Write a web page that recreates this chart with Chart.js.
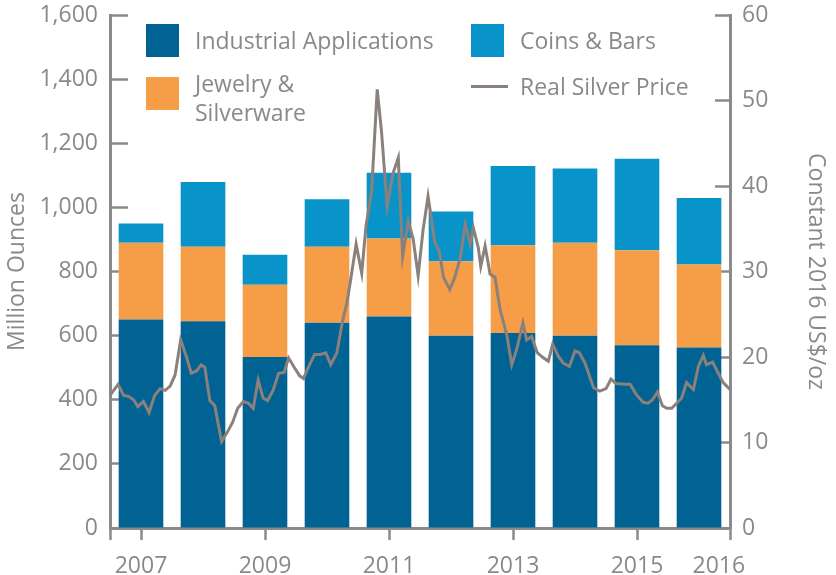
<!DOCTYPE html>
<html>
<head>
<meta charset="utf-8">
<title>Silver demand vs real silver price</title>
<script src="https://cdn.jsdelivr.net/npm/chart.js@4.4.1/dist/chart.umd.min.js"></script>
<style>
    body { margin: 0; background: #ffffff; }
    .chart-wrap { position: relative; width: 836px; height: 575px; }
    #legend { font-family: 'Open Sans', sans-serif; font-size: 23px; color: #878a8d; }
    .legend-item { position: absolute; display: flex; align-items: center; line-height: 29px; white-space: nowrap; }
    .legend-item.wrap-text { align-items: flex-start; white-space: normal; }
    .legend-item.wrap-text .legend-text { width: 130px; }
    .swatch { width: 33px; height: 33px; margin-right: 16px; flex: none; }
    .wrap-text .swatch { margin-top: 8px; }
    .swatch-line { width: 37px; height: 3px; margin-right: 12px; flex: none; }
</style>
</head>
<body>
<div class="chart-wrap">
    <canvas id="silverChart"></canvas>
    <div id="legend"></div>
</div>
<script>
// Silver demand by sector (million ounces) and real silver price (constant 2016 US$/oz)
const years = ['2007', '2008', '2009', '2010', '2011', '2012', '2013', '2014', '2015', '2016'];
const industrial = [650, 645, 533, 640, 660, 600, 608, 600, 570, 563];
const jewelry = [240, 232, 226, 237, 243, 232, 274, 290, 296, 259];
const coinsBars = [60, 202, 93, 148, 205, 155, 247, 231, 286, 207];

// price line (time as decimal year, value in US$/oz)
const priceTime = [
    2006.50, 2006.63, 2006.72, 2006.80, 2006.88, 2006.95, 2007.04, 2007.13, 2007.22, 2007.31,
    2007.39, 2007.47, 2007.55, 2007.64, 2007.73, 2007.81, 2007.90, 2007.97, 2008.03, 2008.11,
    2008.19, 2008.30, 2008.40, 2008.48, 2008.56, 2008.65, 2008.73, 2008.81, 2008.89, 2008.97,
    2009.04, 2009.13, 2009.22, 2009.31, 2009.38, 2009.47, 2009.56, 2009.62, 2009.72, 2009.80,
    2009.89, 2009.98, 2010.06, 2010.16, 2010.25, 2010.32, 2010.37, 2010.47, 2010.56, 2010.63,
    2010.72, 2010.81, 2010.88, 2010.97, 2011.07, 2011.15, 2011.22, 2011.31, 2011.39, 2011.47,
    2011.55, 2011.63, 2011.74, 2011.81, 2011.88, 2011.98, 2012.06, 2012.15, 2012.23, 2012.31,
    2012.36, 2012.44, 2012.48, 2012.55, 2012.63, 2012.71, 2012.79, 2012.90, 2012.98, 2013.06,
    2013.16, 2013.22, 2013.30, 2013.39, 2013.49, 2013.57, 2013.64, 2013.73, 2013.81, 2013.91,
    2014.00, 2014.07, 2014.16, 2014.30, 2014.40, 2014.50, 2014.58, 2014.66, 2014.81, 2014.89,
    2014.99, 2015.10, 2015.18, 2015.25, 2015.33, 2015.41, 2015.48, 2015.56, 2015.64, 2015.72,
    2015.80, 2015.91, 2015.99, 2016.07, 2016.12, 2016.22, 2016.31, 2016.39, 2016.50
];
const price = [
    15.5, 16.8, 15.5, 15.4, 15.0, 14.2, 14.8, 13.5, 15.5, 16.3,
    16.1, 16.6, 17.9, 22.0, 20.1, 18.1, 18.4, 19.1, 18.8, 14.9,
    14.3, 10.1, 11.3, 12.4, 14.0, 14.8, 14.6, 14.0, 17.3, 15.2,
    14.9, 16.1, 18.1, 18.2, 19.9, 18.8, 17.8, 17.5, 19.1, 20.3,
    20.3, 20.5, 19.1, 20.5, 24.2, 26.3, 28.5, 33.2, 29.8, 35.4,
    39.4, 51.3, 46.3, 37.6, 41.6, 43.3, 31.8, 35.9, 33.8, 29.5,
    34.9, 38.8, 33.4, 32.4, 29.3, 27.9, 29.3, 31.6, 35.5, 33.2,
    35.1, 32.8, 30.6, 33.0, 29.7, 29.3, 25.6, 22.6, 19.1, 20.9,
    24.0, 22.0, 22.4, 20.5, 19.9, 19.5, 21.5, 20.1, 19.3, 18.9,
    20.7, 20.5, 19.3, 16.4, 16.0, 16.3, 17.4, 16.9, 16.8, 16.8,
    15.6, 14.7, 14.6, 15.0, 15.9, 14.3, 14.0, 14.0, 14.6, 15.2,
    17.0, 16.2, 18.9, 20.2, 19.1, 19.4, 18.1, 17.0, 16.2
];

// axis ticks
const xTickYears = [2007, 2009, 2011, 2013, 2015, 2016];
const leftTicks = { min: 0, max: 1600, step: 200 };
const rightTicks = { min: 0, max: 60, step: 10 };

const seriesNames = ['Industrial Applications', 'Jewelry & Silverware', 'Coins & Bars', 'Real Silver Price'];
const colors = {
    industrial: '#016393',
    jewelry: '#f69d47',
    coins: '#0894c8',
    price: '#8b807c',
    axis: '#8a8a8a',
    text: '#878a8d'
};

const FONT = "'Open Sans', sans-serif";
const LAST_LABEL_SHIFT = 0.32; // the 2016 label sits at the right end of the axis

document.addEventListener('DOMContentLoaded', function() {
    initializeChart();
    buildLegend();
});

// fixed axis box sizes; drop the label paddings Chart.js adds around the plot
function fixBox(size) {
    return function(scale) {
        if (scale.isHorizontal()) scale.height = size; else scale.width = size;
        scale.paddingTop = 0;
        scale.paddingBottom = 0;
        scale.paddingLeft = 0;
        scale.paddingRight = 0;
    };
}

// tick value used for each year label on the time axis
function yearTickValue(year, i) {
    return i === xTickYears.length - 1 ? year + LAST_LABEL_SHIFT : year;
}

function initializeChart() {
    const ctx = document.getElementById('silverChart');
    const pricePoints = priceTime.map((t, i) => ({ x: t, y: price[i] }));

    const barStyle = {
        type: 'bar',
        xAxisID: 'x',
        yAxisID: 'y',
        grouped: false,
        barPercentage: 0.72,
        categoryPercentage: 1.0,
        borderWidth: 0
    };

    const config = {
        type: 'bar',
        data: {
            labels: years,
            datasets: [
                {
                    type: 'line',
                    label: seriesNames[3],
                    data: pricePoints,
                    xAxisID: 'xt',
                    yAxisID: 'y2',
                    order: -1,
                    borderColor: colors.price,
                    borderWidth: 3,
                    pointRadius: 0,
                    tension: 0,
                    fill: false
                },
                Object.assign({ label: seriesNames[0], data: industrial, backgroundColor: colors.industrial }, barStyle),
                Object.assign({ label: seriesNames[1], data: jewelry, backgroundColor: colors.jewelry }, barStyle),
                Object.assign({ label: seriesNames[2], data: coinsBars, backgroundColor: colors.coins }, barStyle)
            ]
        },
        options: {
            responsive: true,
            maintainAspectRatio: false,
            animation: false,
            layout: {
                padding: { top: 15, left: 0, right: 0, bottom: 0 }
            },
            plugins: {
                legend: { display: false },
                tooltip: { enabled: false }
            },
            scales: {
                x: {
                    type: 'category',
                    display: false,
                    stacked: true,
                    offset: true
                },
                xt: {
                    type: 'linear',
                    position: 'bottom',
                    min: 2006.5,
                    max: 2016.5,
                    offset: false,
                    afterBuildTicks: function(scale) {
                        const vals = [2006.5].concat(xTickYears.map(yearTickValue), [2016.5]);
                        scale.ticks = vals.map(v => ({ value: v }));
                    },
                    afterFit: fixBox(47),
                    grid: {
                        offset: false,
                        drawOnChartArea: false,
                        drawTicks: true,
                        tickLength: 12,
                        tickWidth: 2.5,
                        tickColor: function(c) {
                            const last = yearTickValue(xTickYears[xTickYears.length - 1], xTickYears.length - 1);
                            return c.tick && Math.abs(c.tick.value - last) < 0.01 ? 'rgba(0,0,0,0)' : colors.axis;
                        }
                    },
                    border: { color: colors.axis, width: 3 },
                    ticks: {
                        autoSkip: false,
                        maxRotation: 0,
                        padding: 13,
                        color: colors.text,
                        font: { family: FONT, size: 23 },
                        callback: function(value) {
                            const idx = xTickYears.findIndex((y, i) => Math.abs(yearTickValue(y, i) - value) < 0.01);
                            return idx >= 0 ? String(xTickYears[idx]) : '';
                        }
                    }
                },
                y: {
                    type: 'linear',
                    position: 'left',
                    stacked: true,
                    min: leftTicks.min,
                    max: leftTicks.max,
                    afterFit: fixBox(110),
                    grid: {
                        drawOnChartArea: false,
                        drawTicks: true,
                        tickLength: -18,
                        tickWidth: 2.5,
                        tickColor: colors.axis
                    },
                    border: { color: colors.axis, width: 3 },
                    ticks: {
                        stepSize: leftTicks.step,
                        padding: 30,
                        color: colors.text,
                        font: { family: FONT, size: 23 },
                        callback: function(value) {
                            return value.toLocaleString('en-US');
                        }
                    },
                    title: {
                        display: true,
                        text: 'Million Ounces',
                        color: colors.text,
                        font: { family: FONT, size: 23 },
                        padding: { top: 4, bottom: 0 }
                    }
                },
                y2: {
                    type: 'linear',
                    position: 'right',
                    min: rightTicks.min,
                    max: rightTicks.max,
                    afterFit: fixBox(106),
                    grid: {
                        drawOnChartArea: false,
                        drawTicks: true,
                        tickLength: -15,
                        tickWidth: 2.5,
                        tickColor: colors.axis
                    },
                    border: { color: colors.axis, width: 3 },
                    ticks: {
                        stepSize: rightTicks.step,
                        padding: 27,
                        color: colors.text,
                        font: { family: FONT, size: 23 }
                    },
                    title: {
                        display: true,
                        text: 'Constant 2016 US$/oz',
                        color: colors.text,
                        font: { family: FONT, size: 23 },
                        padding: { top: 7, bottom: 0 }
                    }
                }
            }
        }
    };

    new Chart(ctx, config);
}

// HTML legend laid out in two columns inside the plot
function buildLegend() {
    const legend = document.getElementById('legend');
    const items = [
        { name: seriesNames[0], color: colors.industrial, kind: 'box', left: 146, top: 24 },
        { name: seriesNames[1], color: colors.jewelry, kind: 'box', left: 146, top: 69, wrap: true },
        { name: seriesNames[2], color: colors.coins, kind: 'box', left: 471, top: 24 },
        { name: seriesNames[3], color: colors.price, kind: 'line', left: 471, top: 72 }
    ];

    legend.innerHTML = items.map(item => {
        const mark = item.kind === 'line'
            ? `<span class="swatch-line" style="background:${item.color}"></span>`
            : `<span class="swatch" style="background:${item.color}"></span>`;
        return `<div class="legend-item${item.wrap ? ' wrap-text' : ''}" style="left:${item.left}px;top:${item.top}px">
                    ${mark}<span class="legend-text">${escapeHtml(item.name)}</span>
                </div>`;
    }).join('');
}

function escapeHtml(text) {
    const div = document.createElement('div');
    div.textContent = text;
    return div.innerHTML;
}
</script>
</body>
</html>
